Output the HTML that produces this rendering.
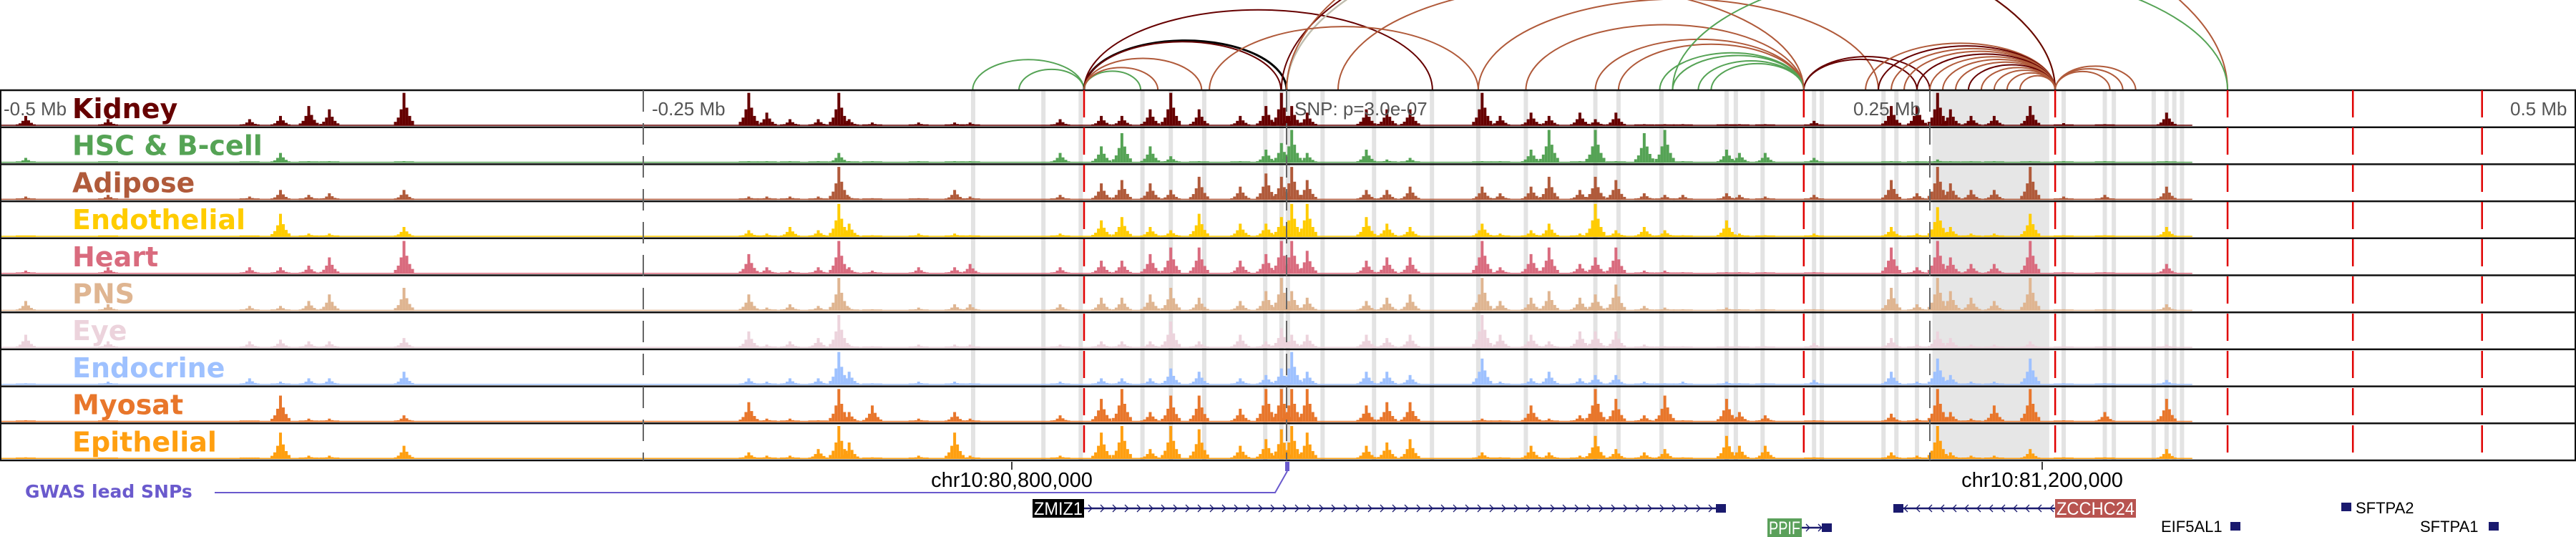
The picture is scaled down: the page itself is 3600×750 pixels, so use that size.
<!DOCTYPE html>
<html><head><meta charset="utf-8"><title>Genome browser – ZMIZ1 locus</title>
<style>
html,body{margin:0;padding:0;background:#fff;width:3600px;height:750px;overflow:hidden}
svg{display:block;font-family:"DejaVu Sans","Liberation Sans",sans-serif}
</style></head>
<body>
<svg id="chart" width="3600" height="750" viewBox="0 0 3600 750" xmlns="http://www.w3.org/2000/svg">
  <g id="highlights"></g>
  <g id="arcs"></g>
  <g id="tracks"></g>
  <g id="guides"></g>
  <g id="labels"></g>
  <g id="axis">
    <text x="5" y="161" font-size="26" fill="#555" font-family="Liberation Sans, sans-serif">-0.5 Mb</text>
    <text x="911" y="161" font-size="26" fill="#555" font-family="Liberation Sans, sans-serif">-0.25 Mb</text>
    <text x="1809" y="161" font-size="26" fill="#555" font-family="Liberation Sans, sans-serif">SNP: p=3.0e-07</text>
    <text x="2590" y="161" font-size="26" fill="#555" font-family="Liberation Sans, sans-serif">0.25 Mb</text>
    <text x="3508" y="161" font-size="26" fill="#555" font-family="Liberation Sans, sans-serif">0.5 Mb</text>
  </g>
  <g id="bottom">
    <line x1="1414" y1="645" x2="1414" y2="656" stroke="#000" stroke-width="1.5"/>
    <line x1="2854" y1="645" x2="2854" y2="656" stroke="#000" stroke-width="1.5"/>
    <text x="1414" y="680" font-size="29" text-anchor="middle" fill="#000" font-family="Liberation Sans, sans-serif">chr10:80,800,000</text>
    <text x="2854" y="680" font-size="29" text-anchor="middle" fill="#000" font-family="Liberation Sans, sans-serif">chr10:81,200,000</text>
    <text x="35" y="695" font-size="25" font-weight="bold" fill="#6a5acd">GWAS lead SNPs</text>
    <polyline points="300,688 1782,688 1799,658" fill="none" stroke="#6a5acd" stroke-width="2"/>
    <rect x="1796" y="645" width="6" height="13" fill="#6a5acd"/>
    <g id="genes"></g>
  </g>
</svg>
<script>
// ---- data ----
const trackNames = ["Kidney","HSC & B-cell","Adipose","Endothelial","Heart","PNS","Eye","Endocrine","Myosat","Epithelial"];
const trackColors = ["#660000","#55a355","#b05a3a","#ffcc00","#d96b7e","#dfb591","#ecd3dc","#9ec1ff","#e8762b","#ff9f10"];
const peakPositionsKb = [-490,-458,-403,-391,-380,-372,-343,-209,-202,-193,-182,-174,-170,-161,-143,-129,-123,-88,-72,-64,-53,-45,-34,-18,-8,-2,2,8,31,39,48,76,83,95,102,114,120,128,139,147,154,171,176,186,205,235,245,253,258,266,275,289,302,318,342];
const kidneyHeights = [3,2,2,3,6,5,10, 10,4,2,2,10,2,1,1,1,1, 2,3,3,5,10,5,3,6,10, 6,4,5,5,5,10,3,4,3,4,2,4, .5,.5,.5,.5,.5,.5,1.5, 6,6,10,5,3,3,6,.8,.5,4];
const hscHeights = [1.5,0,.3,3,.5,.5,.5, .5,.5,.5,.5,3,.5,.5,.5,.5,.5, 3,5,9,5,2,.5,.5,4,6, 10,3,4,1,1.5,.5,.5,4,10,.5,10,.5, 9,10,.5,4,3,3,1.5, .5,.5,1,.5,.5,.5,.5,.5,.5,.5];
const adiposeHeights = [1,1.5,1,3,1.5,2,3, 1,1,1,1,10,1,.5,.5,3,1, 1.5,5,6,5,3,7,4,8,7, 10,6,3,3,4,4,2,4,7,3,7,6, 2,1.5,1.5,2,1.5,1,1.5, 6,2,10,5,3,3,10,1,1.5,4];
const endothelialHeights = [.3,.3,.3,7,1,1,3, 2,1,3,2,10,4,.5,1,1,.5, 1,5,6,3,2,7,4,4,6, 10,10,6,4,3,4,1,2,4,1,10,2, 3,2,.5,5,1,.5,1, 3,1,9,3,1,1,7,.5,.5,3];
const heartHeights = [1,2,2,2,2.5,5,10, 6,2,1,2,10,2,1,2,2,3, 2,4,4,6,8,8,4,6,10, 10,7,4,5,5,10,2,6,8,3,5,8, 1,1,.5,.5,.5,.5,.5, 8,2,10,5,3,3,10,.5,.5,3];
const pnsHeights = [3,2,1.5,1.5,3,5,7, 5,1,2,1.5,10,1,.5,1,2,2, 2,4,4,5,7,4,3,6,10, 6,4,3,4,5,10,3,4,6,4,5,8, 1.5,1,.5,1,.5,.5,.5, 7,2,10,6,4,3,10,.5,.5,2];
const eyeHeights = [4,2,2,2.5,2,2,3, 5,1,2,3,10,1,.5,1,1,1, 1,2,2,2,8,2,4,2,6, 4,4,4,3,4,10,4,4,2,5,5,5, 1,.5,.5,.5,.5,.5,1.5, 3,1,5,3,1,1,2,.5,.5,1];
const endocrineHeights = [.5,1,2,1,2,2,4, 2,1,2,2,10,4,.5,1,1,.5, 1,2,2,2,5,4,2,3,5, 10,4,4,4,3,8,1,2,4,2,3,3, 1,.5,1,1,.5,.5,1.5, 4,1,8,3,1,1,8,.5,.5,1.5];
const myosatHeights = [.5,.5,.3,8,1,1,2, 6,1,1,.5,10,3,5,1,3,1, 2,7,10,3,8,8,4,10,10, 10,10,5,6,6,1,.5,5,1,2,10,7, 2,8,.5,7,3,2,.5, 2.5,1,10,3,1,5,10,.5,3,7];
const epithelialHeights = [.5,.3,.3,8,1,1,4, 2,1,1,3,10,5,.5,1,8,1, 1,8,10,3,10,9,4,6,9, 10,8,4,5,6,2,.5,4,2,1,7,3, 2,3,.5,7,4,4,.5, 2,1,10,2,1,1,3,.5,.5,3];
const trackHeights = [kidneyHeights,hscHeights,adiposeHeights,endothelialHeights,heartHeights,pnsHeights,eyeHeights,endocrineHeights,myosatHeights,epithelialHeights];
const highlightKb = [-121.8,-94.5,-80,-56,-45,-32,-8.3,-2,0.5,14,34,56.5,74.5,93,120,129,145.7,171,174.6,185,205,208,232,237,245,302,318,321.5,337,342,345,348];
const highlightBlockKb = [251,296.4];
const boundaryKb = [-78.7,201,298.7,365.7,414.4,464.6];
const guideKb = [-250,0,250];
const arcStartKb = [-122,-104,-78.7,-78.7,-78.7,-78.7,-78.7,-78.7,0,0,0,0,-2,0,93,120,129,145,150,160,165,74.5,201,201,225,230,235,240,245,250,255,260,265,270,275,280,285,298.7,298.7,298.7,150,-30,20];
const arcEndKb   = [-78.7,-78.7,0,-2.2,56.7,-33,-56.7,-50,298.7,298.7,298.7,298.7,298.7,365.7,201,201,201,201,201,201,201,230,250,245,298.7,298.7,298.7,298.7,298.7,298.7,298.7,298.7,298.7,298.7,298.7,298.7,298.7,320,325,330,365.7,74.5,201];
const arcColorIdx = [1,1,-1,0,0,2,1,2,8,1,3,-2,0,2,2,2,2,1,1,1,1,2,0,0,2,0,2,2,0,2,2,2,0,2,2,2,2,2,2,2,1,2,2];

// ---- scales ----
const NS = "http://www.w3.org/2000/svg";
const X0 = 1798, PXKB = 3.596;
function xScale(kb){ return X0 + kb*PXKB; }
const TOP = 126, ROWH = 51.7, MAXH = 46;
function rowTop(i){ return TOP + i*ROWH; }
function yScale(i, h){ return (h/10)*MAXH; }
function mk(tag, attrs, parent){ const e=document.createElementNS(NS,tag); for(const k in attrs) e.setAttribute(k,attrs[k]); parent.appendChild(e); return e; }

// highlights
const hg = document.getElementById('highlights');
highlightKb.forEach(k=>{
  const r = mk('rect',{x:xScale(k)-3,y:TOP,width:6,height:ROWH*10,fill:'#e3e3e3'},hg);
  
  
});
{
  const r = mk('rect',{x:xScale(highlightBlockKb[0]),y:TOP,width:xScale(highlightBlockKb[1])-xScale(highlightBlockKb[0]),height:ROWH*10,fill:'#e6e6e6'},hg);
  
  
}

// arcs
const ag = document.getElementById('arcs');
arcStartKb.forEach((s,i)=>{
  const x1=xScale(s), x2=xScale(arcEndKb[i]);
  const span=Math.abs(x2-x1), rx=span/2, ry=0.21*span+10;
  const ci=arcColorIdx[i];
  const col = ci===-1?'#000':(ci===-2?'#bbbbbb':trackColors[ci]);
  const p = mk('path',{d:`M${Math.min(x1,x2)},${TOP} A${rx},${ry} 0 0 1 ${Math.max(x1,x2)},${TOP}`,fill:'none',stroke:col,'stroke-width':ci===-1?3:2},ag);
  
  
});

// tracks
const tg = document.getElementById('tracks');
const shoulderOff=[-12,-8,-4,0,4,8,12], shoulderMul=[0.12,0.25,0.5,1,0.55,0.3,0.15];
trackHeights.forEach((arr,t)=>{
  const g = mk('g',{},tg);
  
  
  const base = rowTop(t)+ROWH-2;
  const bl = mk('rect',{x:xScale(-500),y:base-1.5,width:xScale(352)-xScale(-500),height:1.5,fill:trackColors[t]},g);
  
  
  arr.forEach((h,pi)=>{
    const xc = xScale(peakPositionsKb[pi]);
    const H = yScale(t,h);
    shoulderOff.forEach((o,j)=>{
      const hh = Math.max(2, H*shoulderMul[j]);
      const b = mk('rect',{x:xc+o-2,y:base-hh,width:4,height:hh,fill:trackColors[t]},g);
      
      
    });
  });
});
// row separators
for(let i=0;i<=10;i++){
  const l = mk('line',{x1:0,x2:3600,y1:rowTop(i),y2:rowTop(i),stroke:'#111','stroke-width':2.5},tg);
  
  
}
mk('line',{x1:1,x2:1,y1:TOP,y2:rowTop(10),stroke:'#111','stroke-width':2},tg);
mk('line',{x1:3599,x2:3599,y1:TOP,y2:rowTop(10),stroke:'#111','stroke-width':2},tg);

// guides
const gg = document.getElementById('guides');
guideKb.forEach(k=>{
  const l = mk('line',{x1:xScale(k),x2:xScale(k),y1:TOP,y2:rowTop(10),stroke:'#666','stroke-width':2,'stroke-dasharray':'30 16'},gg);
  
  
});
boundaryKb.forEach(k=>{
  const l = mk('line',{x1:xScale(k),x2:xScale(k),y1:TOP,y2:rowTop(10),stroke:'#e00000','stroke-width':2.5,'stroke-dasharray':'38 14'},gg);
  
  
});

// labels
const lg = document.getElementById('labels');
trackNames.forEach((n,i)=>{
  const tx = mk('text',{x:101,y:rowTop(i)+39,'font-size':38,'font-weight':'bold',fill:trackColors[i]},lg);
  tx.textContent=n;
  
  
});

// genes
const gn = document.getElementById('genes');
function chevrons(x1,x2,y,dir,g){
  for(let x=x1+6;x<x2-6;x+=17){
    const d = dir>0?`M${x},${y-5} L${x+5},${y} L${x},${y+5}`:`M${x+5},${y-5} L${x},${y} L${x+5},${y+5}`;
    mk('path',{d,fill:'none',stroke:'#1a1a6e','stroke-width':1.3},g);
  }
}
function gene(name,boxX,boxW,y,boxColor,lineX1,lineX2,dir,blockX){
  const g = mk('g',{},gn);
  
  
  if(lineX2>lineX1){
    mk('line',{x1:lineX1,x2:lineX2,y1:y,y2:y,stroke:'#1a1a6e','stroke-width':2.5},g);
    chevrons(lineX1,lineX2,y,dir,g);
  }
  mk('rect',{x:blockX,y:y-6,width:14,height:12,fill:'#1a1a6e'},g);
  if(boxColor){
    mk('rect',{x:boxX,y:y-13,width:boxW,height:26,fill:boxColor},g);
    const t=mk('text',{x:boxX+boxW/2,y:y+9,'font-size':25,'text-anchor':'middle',fill:'#fff','font-family':'Liberation Sans, sans-serif',textLength:boxW-4,lengthAdjust:'spacingAndGlyphs'},g);
    t.textContent=name;
  }
}
gene('ZMIZ1',1443,72,710,'#000',1515,2400,1,2398);
gene('PPIF',2470,48,737,'#5aa05a',2518,2548,1,2546);
gene('ZCCHC24',2872,113,710,'#b85450',2655,2872,-1,2646);
gene('EIF5AL1',0,0,735,null,0,0,1,3117);
gene('SFTPA2',0,0,708,null,0,0,1,3272);
gene('SFTPA1',0,0,735,null,0,0,1,3478);
[['EIF5AL1',3020,743],['SFTPA2',3292,717],['SFTPA1',3382,743]].forEach(a=>{
  const t=mk('text',{x:a[1],y:a[2],'font-size':22,fill:'#000','font-family':'Liberation Sans, sans-serif'},gn);
  t.textContent=a[0];
  
  
});
</script>
</body></html>
